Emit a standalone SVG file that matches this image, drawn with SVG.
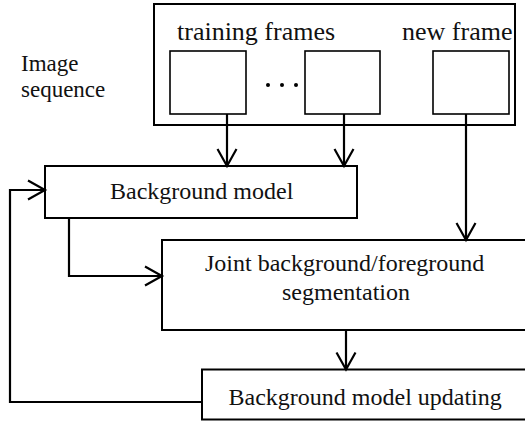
<svg xmlns="http://www.w3.org/2000/svg" width="525" height="421" viewBox="0 0 525 421">
  <style>
    .box { fill: #fff; stroke: #000; stroke-width: 2; }
    .frame { fill: #fff; stroke: #000; stroke-width: 1.6; }
    .lbl { font-family: "Liberation Serif", "Times New Roman", serif; font-size: 24px; fill: #111; }
    .top { font-size: 26px; }
    .side { font-size: 23px; }
    .wire { fill: none; stroke: #000; stroke-width: 2.2; marker-end: url(#arrow); }
  </style>
  <defs>
    <marker id="arrow" markerUnits="userSpaceOnUse" markerWidth="24" markerHeight="24" viewBox="-20 -12 22 24" refX="0" refY="0" orient="auto" overflow="visible">
      <path d="M-17,-9.5 L0,0 L-17,9.5" fill="none" stroke="#000" stroke-width="2.2"/>
    </marker>
  </defs>

  <!-- left caption -->
  <g id="caption">
    <text class="lbl side" x="21" y="71">Image</text>
    <text class="lbl side" x="21" y="97">sequence</text>
  </g>

  <!-- image sequence container with frames -->
  <g id="sequence">
    <rect class="box" x="154" y="4" width="361" height="121"/>
    <text class="lbl top" x="177" y="40">training frames</text>
    <text class="lbl top" x="402" y="40">new frame</text>
    <rect class="frame" x="170" y="51" width="76" height="63"/>
    <rect class="frame" x="305" y="51" width="75" height="63"/>
    <rect class="frame" x="433" y="51" width="76" height="63"/>
    <circle cx="268" cy="85" r="2"/>
    <circle cx="282" cy="85" r="2"/>
    <circle cx="296" cy="85" r="2"/>
  </g>

  <g id="background-model">
    <rect class="box" x="45" y="166" width="312" height="52"/>
    <text class="lbl" x="110" y="199">Background model</text>
  </g>

  <g id="segmentation">
    <rect class="box" x="162" y="240" width="370" height="90"/>
    <text class="lbl" x="205" y="271">Joint background/foreground</text>
    <text class="lbl" x="282" y="300">segmentation</text>
  </g>

  <g id="model-updating">
    <rect class="box" x="202" y="369.5" width="330" height="50"/>
    <text class="lbl" x="228.5" y="405">Background model updating</text>
  </g>

  <!-- connectors -->
  <g id="connectors">
    <path class="wire" d="M227,114 V166"/>
    <path class="wire" d="M344,114 V166"/>
    <path class="wire" d="M466,114 V240"/>
    <path class="wire" d="M69,218 V276 H162"/>
    <path class="wire" d="M346,330 V369.5"/>
    <path class="wire" d="M202,402 H10 V190 H45"/>
  </g>
</svg>
